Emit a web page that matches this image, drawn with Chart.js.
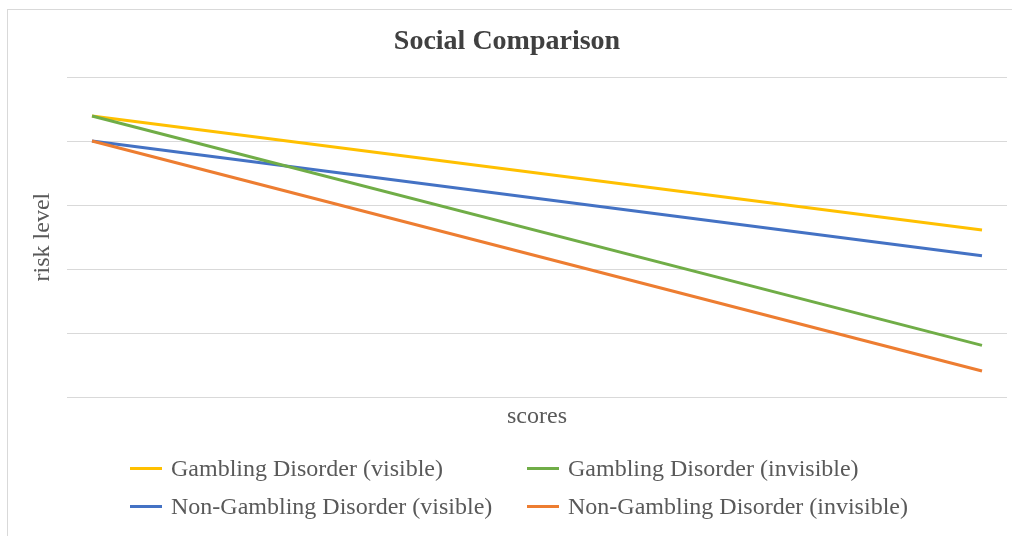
<!DOCTYPE html>
<html>
<head>
<meta charset="utf-8">
<script src="https://cdn.jsdelivr.net/npm/chart.js@4.4.1/dist/chart.umd.min.js"></script>
<style>
  html, body { margin: 0; padding: 0; background: #fff; overflow: hidden; }
  #wrap { position: relative; width: 1012px; height: 536px; overflow: hidden; }
  .frame-h { position: absolute; left: 7px; top: 9px; width: 1005px; height: 1px; background: #d9d9d9; }
  .frame-v { position: absolute; left: 7px; top: 9px; width: 1px; height: 527px; background: #d9d9d9; }
  #chart { position: absolute; left: 0; top: 0; }
  #legend {
    position: absolute; left: 130px; top: 449px;
    display: grid; grid-template-columns: 397px auto;
    font-family: "Liberation Serif", "Times New Roman", serif;
    font-size: 24px; color: #595959;
  }
  #legend .item { display: flex; align-items: center; height: 38px; white-space: nowrap; }
  #legend .swatch { width: 32px; height: 3px; margin-right: 9px; }
</style>
</head>
<body>
<div id="wrap">
  <div class="frame-h"></div>
  <div class="frame-v"></div>
  <canvas id="chart" width="1012" height="536"></canvas>
  <div id="legend"></div>
</div>
<script>
  // two measurement points along the "scores" axis (no tick labels shown)
  const scorePoints = [1, 2];

  const gamblingVisible = [4.39, 2.61];
  const gamblingInvisible = [4.39, 0.81];
  const nonGamblingVisible = [4.0, 2.21];
  const nonGamblingInvisible = [4.0, 0.41];

  const seriesNames = [
    "Gambling Disorder (visible)",
    "Gambling Disorder (invisible)",
    "Non-Gambling Disorder (visible)",
    "Non-Gambling Disorder (invisible)",
  ];
  const seriesColors = ["#FFC000", "#70AD47", "#4472C4", "#ED7D31"];
  const seriesValues = [
    gamblingVisible,
    gamblingInvisible,
    nonGamblingVisible,
    nonGamblingInvisible,
  ];
  const drawOrder = [4, 2, 3, 1];

  const serif = "'Liberation Serif', 'Times New Roman', serif";

  const datasets = seriesNames.map((name, i) => ({
    label: name,
    data: scorePoints.map((x, j) => ({ x: x, y: seriesValues[i][j] })),
    borderColor: seriesColors[i],
    backgroundColor: seriesColors[i],
    borderWidth: 3,
    pointRadius: 0,
    tension: 0,
    fill: false,
    order: drawOrder[i],
  }));

  const ctx = document.getElementById("chart").getContext("2d");
  const chart = new Chart(ctx, {
    type: "line",
    data: { datasets },
    options: {
      responsive: false,
      animation: false,
      layout: { padding: { top: 9, left: 7, right: 5, bottom: 105 } },
      scales: {
        x: {
          type: "linear",
          min: 0.9719,
          max: 2.0281,
          ticks: { display: false },
          grid: { display: false },
          border: { display: false },
          title: {
            display: true,
            text: "scores",
            color: "#595959",
            font: { family: serif, size: 24 },
            padding: { top: -3, bottom: 0 },
          },
        },
        y: {
          min: 0,
          max: 5,
          ticks: { display: false, stepSize: 1 },
          grid: { color: "#d9d9d9", lineWidth: 1, drawTicks: false },
          border: { display: false },
          title: {
            display: true,
            text: "risk level",
            color: "#595959",
            font: { family: serif, size: 24 },
            padding: { top: 21.6, bottom: 9.6 },
          },
        },
      },
      plugins: {
        legend: { display: false },
        tooltip: { enabled: false },
        title: {
          display: true,
          text: "Social Comparison",
          color: "#404040",
          font: { family: serif, size: 28, weight: "bold" },
          padding: { top: 16, bottom: 18.4 },
        },
      },
    },
  });

  const legend = document.getElementById("legend");
  chart.data.datasets.forEach((ds) => {
    const item = document.createElement("div");
    item.className = "item";
    item.innerHTML = `<span class="swatch" style="background:${ds.borderColor}"></span><span>${ds.label}</span>`;
    legend.appendChild(item);
  });
</script>
</body>
</html>
